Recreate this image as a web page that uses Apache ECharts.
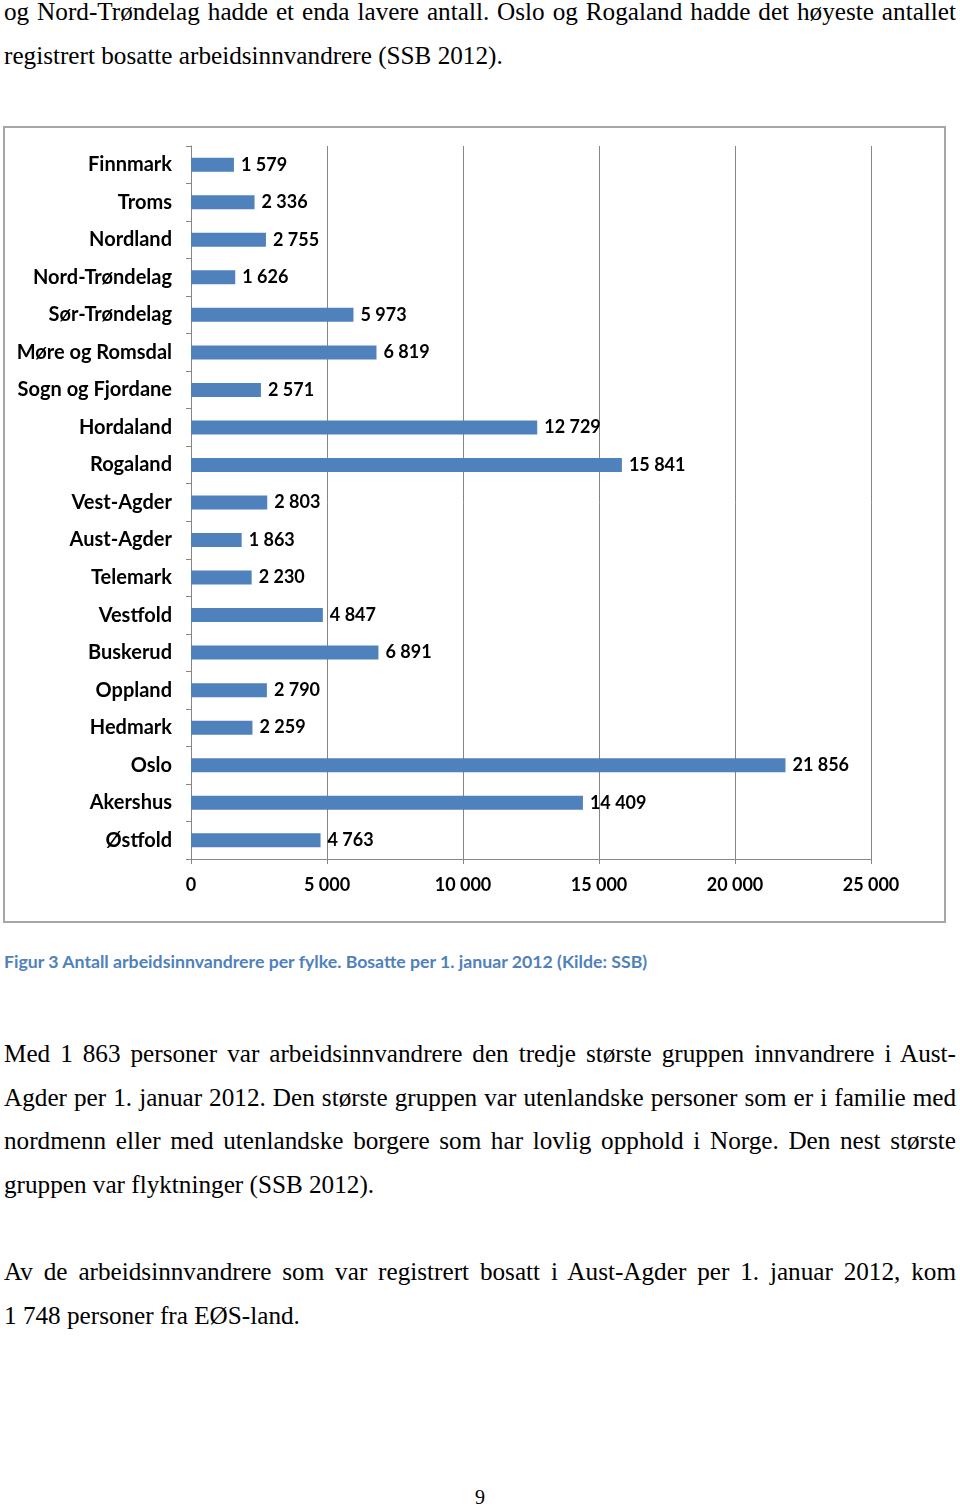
<!DOCTYPE html>
<html><head><meta charset="utf-8">
<script src="https://cdn.jsdelivr.net/npm/echarts@6/dist/echarts.min.js"></script>
<style>
html,body{margin:0;padding:0;background:#fff;width:960px;height:1508px;overflow:hidden;position:relative}
.p{position:absolute;left:4px;width:952px;font-family:"Liberation Serif","Times New Roman",serif;font-size:25.2px;line-height:43.5px;text-align:justify;color:#000}
.j{text-align:justify;text-align-last:justify}
#cap{position:absolute;left:4px;top:951px;font-family:Lato,"Open Sans",sans-serif;font-weight:bold;font-size:17.7px;color:#4F81BD;white-space:nowrap}
#pg{position:absolute;left:0;width:960px;text-align:center;top:1486px;font-family:"Liberation Serif",serif;font-size:20px}
#chart{position:absolute;left:0;top:100px;width:960px;height:840px}
</style></head><body>
<div class="p" style="top:-10px">og Nord-Trøndelag hadde et enda lavere antall. Oslo og Rogaland hadde det høyeste antallet registrert bosatte arbeidsinnvandrere (SSB 2012).</div>
<div id="chart"></div>
<div id="cap">Figur 3 Antall arbeidsinnvandrere per fylke. Bosatte per 1. januar 2012 (Kilde: SSB)</div>
<div class="p" style="top:1032px">Med 1 863 personer var arbeidsinnvandrere den tredje største gruppen innvandrere i Aust-Agder per 1. januar 2012. Den største gruppen var utenlandske personer som er i familie med nordmenn eller med utenlandske borgere som har lovlig opphold i Norge. Den nest største gruppen var flyktninger (SSB 2012).</div>
<div class="p" style="top:1250px"><div class="j">Av de arbeidsinnvandrere som var registrert bosatt i Aust-Agder per 1. januar 2012, kom</div><div>1 748 personer fra EØS-land.</div></div>
<div id="pg">9</div>
<script>
const categories = ["Finnmark","Troms","Nordland","Nord-Trøndelag","Sør-Trøndelag","Møre og Romsdal","Sogn og Fjordane","Hordaland","Rogaland","Vest-Agder","Aust-Agder","Telemark","Vestfold","Buskerud","Oppland","Hedmark","Oslo","Akershus","Østfold"];
const values = [1579,2336,2755,1626,5973,6819,2571,12729,15841,2803,1863,2230,4847,6891,2790,2259,21856,14409,4763];
const xTicks = [0,5000,10000,15000,20000,25000];

function fmt(v){return String(v).replace(/\B(?=(\d{3})+(?!\d))/g,' ');}
const FONT = 'Lato, "Open Sans", sans-serif';
const chart = echarts.init(document.getElementById('chart'));
chart.setOption({
  animation:false,
  graphic:[{type:'rect',shape:{x:4,y:27,width:941,height:795},style:{fill:'none',stroke:'#a6a6a6',lineWidth:2},z:-1}],
  grid:{left:191,right:89,top:46,bottom:81},
  xAxis:{type:'value',min:xTicks[0],max:xTicks[xTicks.length-1],interval:xTicks[1]-xTicks[0],
    axisLine:{show:true,lineStyle:{color:'#868686',width:1}},
    axisTick:{show:true,length:5,lineStyle:{color:'#868686'}},
    splitLine:{show:true,lineStyle:{color:'#868686',width:1}},
    axisLabel:{formatter:fmt,fontFamily:FONT,fontWeight:'bold',fontSize:18,color:'#000',margin:17}},
  yAxis:{type:'category',data:categories,inverse:true,
    axisLine:{show:true,lineStyle:{color:'#868686',width:1}},
    axisTick:{show:true,length:5,lineStyle:{color:'#868686'}},
    axisLabel:{fontFamily:FONT,fontWeight:'bold',fontSize:20,color:'#000',margin:19}},
  series:[{type:'bar',data:values,barWidth:14,itemStyle:{color:'#4F81BD'},
    label:{show:true,position:'right',distance:7,formatter:p=>fmt(p.value),fontFamily:FONT,fontWeight:'bold',fontSize:18,color:'#000'}}]
});
</script>
</body></html>
